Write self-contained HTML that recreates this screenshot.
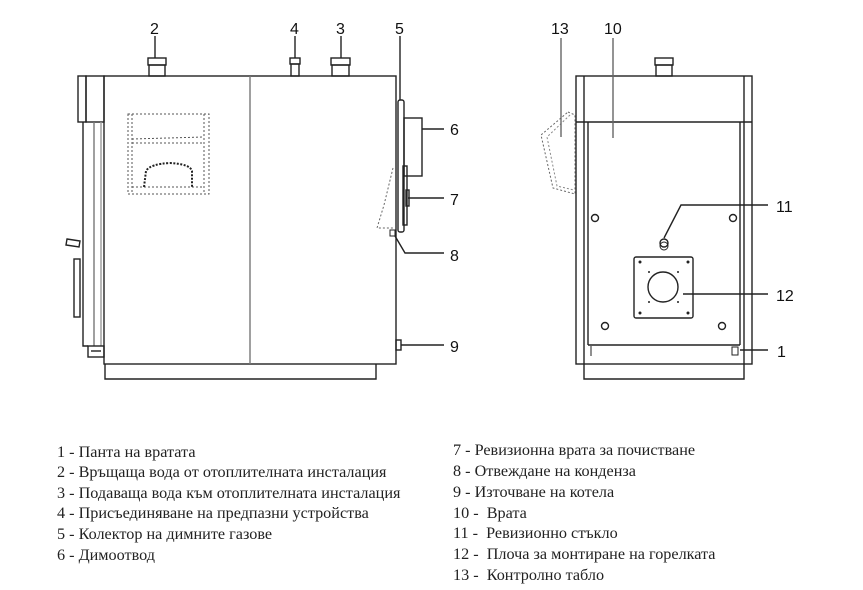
<!DOCTYPE html>
<html><head><meta charset="utf-8"><style>
html,body{margin:0;padding:0;background:#fff;}
svg{display:block;}
.t{font-family:"Liberation Serif",serif;font-size:16.2px;fill:#222;white-space:pre;}
.n{font-family:"Liberation Sans",sans-serif;font-size:16px;fill:#111;}
</style></head><body>
<svg width="863" height="590" viewBox="0 0 863 590" xmlns="http://www.w3.org/2000/svg">
<g fill="none" stroke="#222" stroke-width="1.4">
<rect x="104" y="76" width="292" height="288"/>
<line x1="250" y1="76" x2="250" y2="364" stroke="#777"/>
<polyline points="105,364 105,379 376,379 376,364"/>
<rect x="78" y="76" width="8" height="46"/>
<rect x="86" y="76" width="18" height="46"/>
<polyline points="83,122 83,346 88,346"/>
<line x1="94" y1="122" x2="94" y2="346" stroke="#777"/>
<line x1="101" y1="122" x2="101" y2="346" stroke="#999"/>
<rect x="88" y="346" width="16" height="11"/>
<line x1="91" y1="351" x2="101" y2="351"/>
<polygon points="67,239 80,241 79,247 66,245"/>
<rect x="74" y="259" width="6" height="58"/>
<rect x="148" y="58" width="18" height="7"/><rect x="149" y="65" width="16" height="11"/>
<rect x="290" y="58" width="10" height="6"/><rect x="291" y="64" width="8" height="12"/>
<rect x="331" y="58" width="19" height="7"/><rect x="332" y="65" width="17" height="11"/>
<g stroke-dasharray="2,2" stroke="#555" stroke-width="1">
<rect x="128" y="114" width="81" height="80"/>
<line x1="132" y1="114" x2="132" y2="194"/><line x1="204" y1="114" x2="204" y2="194"/>
<line x1="132" y1="139" x2="204" y2="137"/>
<line x1="132" y1="143" x2="204" y2="143"/>
<line x1="132" y1="187" x2="204" y2="187"/>
</g>
<path d="M144,187 L146,171 Q150,164 170,163 Q190,164 192,171 L192,187" stroke-dasharray="2,1.5" stroke-width="2"/>
<rect x="398" y="100" width="6" height="132" rx="2"/>
<rect x="404" y="118" width="18" height="58"/>
<rect x="403" y="166" width="4" height="59"/>
<rect x="406" y="190" width="3" height="16"/>
<polyline points="393,168 384,205 377,228 393,228" stroke-dasharray="2,2" stroke="#666" stroke-width="1"/>
<rect x="390" y="230" width="5" height="6" stroke-width="1"/>
<rect x="396" y="340" width="5" height="10"/>
<line x1="155" y1="36" x2="155" y2="58"/>
<line x1="295" y1="36" x2="295" y2="58"/>
<line x1="341" y1="36" x2="341" y2="58"/>
<line x1="400" y1="36" x2="400" y2="100"/>
<line x1="422" y1="129" x2="444" y2="129"/>
<line x1="408" y1="198" x2="444" y2="198"/>
<polyline points="395,236 405,253 444,253"/>
<line x1="401" y1="345" x2="444" y2="345"/>
<rect x="576" y="76" width="176" height="288"/>
<line x1="584" y1="76" x2="584" y2="364"/>
<line x1="744" y1="76" x2="744" y2="364"/>
<line x1="576" y1="122" x2="752" y2="122"/>
<line x1="588" y1="122" x2="588" y2="345"/>
<line x1="740" y1="122" x2="740" y2="345"/>
<line x1="588" y1="345" x2="740" y2="345"/>
<polyline points="584,364 584,379 744,379 744,364"/>
<rect x="655" y="58" width="18" height="7"/><rect x="656" y="65" width="16" height="11"/>
<circle cx="595" cy="218" r="3.5"/><circle cx="733" cy="218" r="3.5"/>
<circle cx="605" cy="326" r="3.5"/><circle cx="722" cy="326" r="3.5"/>
<circle cx="664" cy="243" r="4"/><circle cx="664" cy="246" r="4" stroke-width="1"/>
<rect x="634" y="257" width="59" height="61" rx="2"/>
<circle cx="663" cy="287" r="15"/>
<g fill="#222" stroke="none">
<circle cx="640" cy="262" r="1.5"/><circle cx="688" cy="262" r="1.5"/>
<circle cx="640" cy="313" r="1.5"/><circle cx="688" cy="313" r="1.5"/>
<circle cx="649" cy="272" r="1"/><circle cx="678" cy="272" r="1"/>
<circle cx="649" cy="302" r="1"/><circle cx="678" cy="302" r="1"/>
</g>
<polyline points="591,346 591,356 M596,346 596,354" stroke-width="1"/>
<rect x="732" y="347" width="6" height="8" stroke-width="1"/>
<polygon points="568,112 575,115 575,194 553,188 541,135" stroke-dasharray="2,2" stroke="#666" stroke-width="1"/>
<polyline points="570,115 547,137 557,186 574,190" stroke-dasharray="2,2" stroke="#888" stroke-width="1"/>
<line x1="561" y1="38" x2="561" y2="137" stroke="#666"/>
<line x1="613" y1="38" x2="613" y2="138" stroke="#666"/>
<polyline points="664,238 681,205 768,205"/>
<line x1="683" y1="294" x2="768" y2="294"/>
<line x1="740" y1="350" x2="768" y2="350"/>
</g>
<text class="n" x="150" y="34">2</text>
<text class="n" x="290" y="34">4</text>
<text class="n" x="336" y="34">3</text>
<text class="n" x="395" y="34">5</text>
<text class="n" x="450" y="135">6</text>
<text class="n" x="450" y="205">7</text>
<text class="n" x="450" y="261">8</text>
<text class="n" x="450" y="352">9</text>
<text class="n" x="551" y="34">13</text>
<text class="n" x="604" y="34">10</text>
<text class="n" x="776" y="212">11</text>
<text class="n" x="776" y="301">12</text>
<text class="n" x="777" y="357">1</text>
<text class="t" x="57" y="457">1 - Панта на вратата</text>
<text class="t" x="57" y="477">2 - Връщаща вода от отоплителната инсталация</text>
<text class="t" x="57" y="498">3 - Подаваща вода към отоплителната инсталация</text>
<text class="t" x="57" y="518">4 - Присъединяване на предпазни устройства</text>
<text class="t" x="57" y="539">5 - Колектор на димните газове</text>
<text class="t" x="57" y="560">6 - Димоотвод</text>
<text class="t" x="453" y="455">7 - Ревизионна врата за почистване</text>
<text class="t" x="453" y="476">8 - Отвеждане на конденза</text>
<text class="t" x="453" y="497">9 - Източване на котела</text>
<text class="t" x="453" y="518">10 -  Врата</text>
<text class="t" x="453" y="538">11 -  Ревизионно стъкло</text>
<text class="t" x="453" y="559">12 -  Плоча за монтиране на горелката</text>
<text class="t" x="453" y="580">13 -  Контролно табло</text>
</svg>
</body></html>
